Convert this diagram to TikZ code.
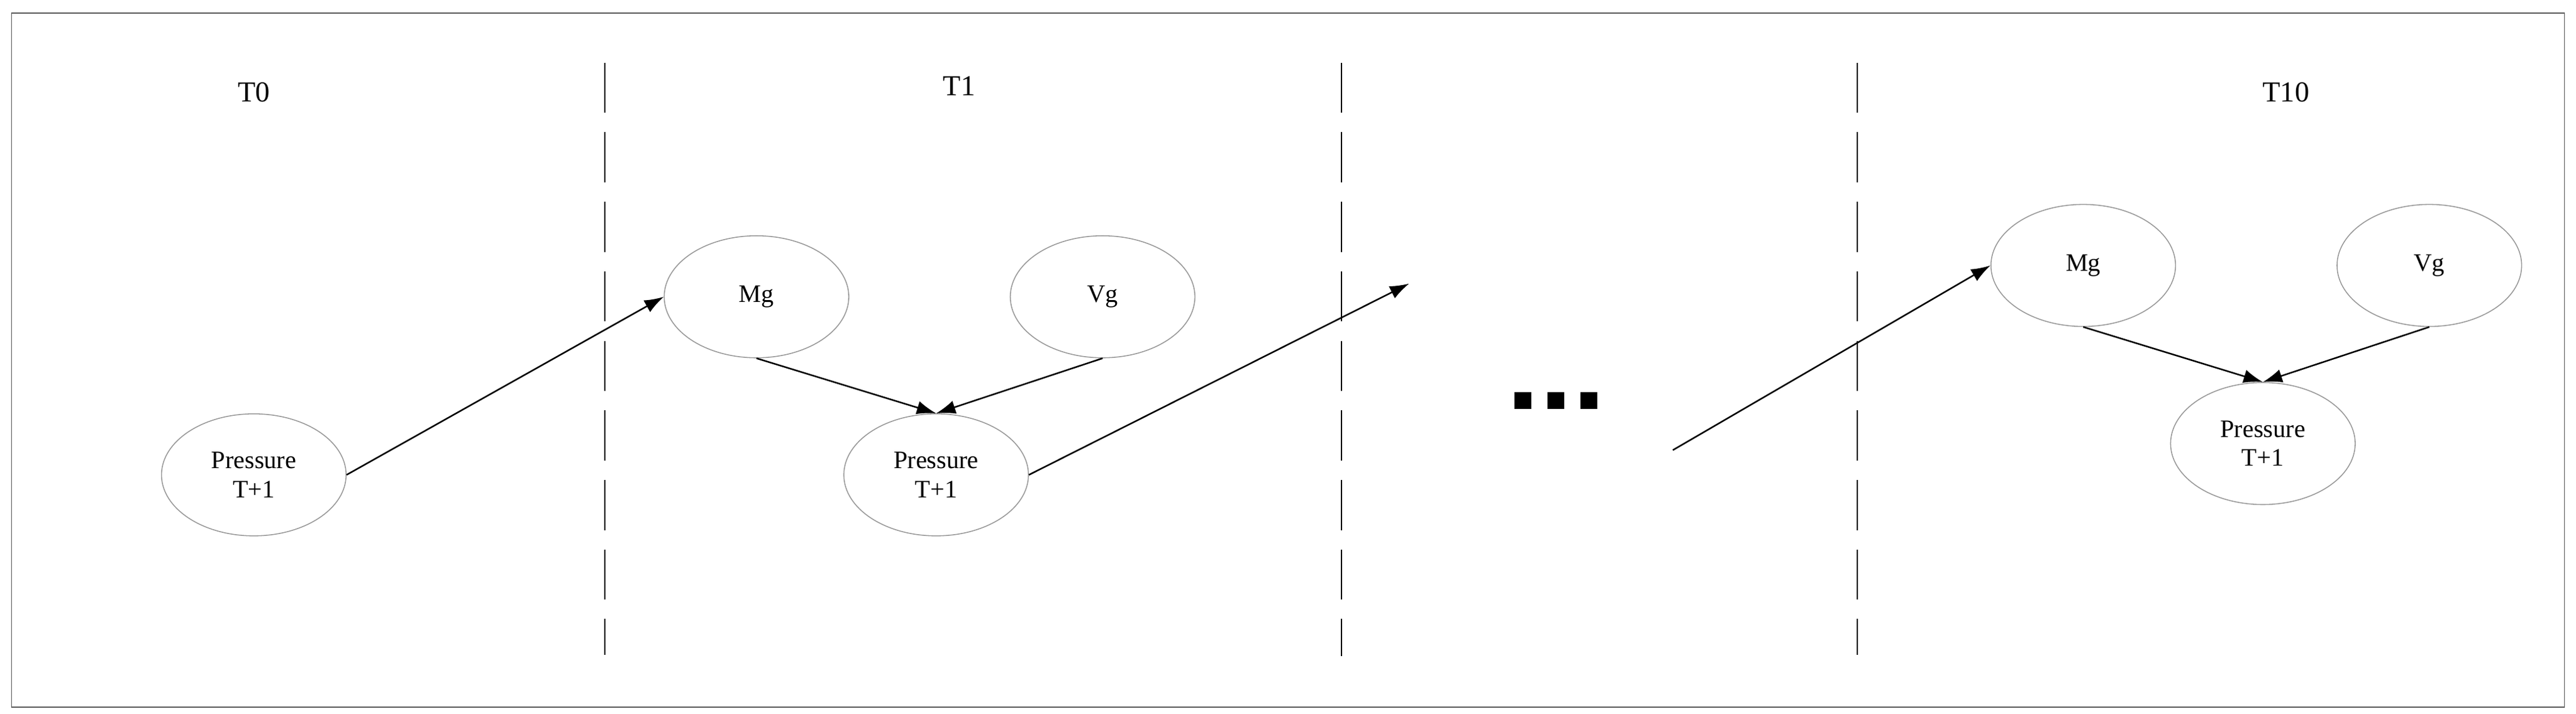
\documentclass[tikz,border=0pt]{standalone}
\usepackage{fontspec}
\setmainfont{Liberation Serif}
\usetikzlibrary{shapes.geometric,arrows.meta}
\begin{document}
\begin{tikzpicture}[x=0.03cm,y=-0.03cm,
  ell/.style={ellipse,draw=gray!80,line width=0.5pt,minimum width=3.36cm,minimum height=2.22cm,align=center,font=\fontsize{13}{15}\selectfont},
  arr/.style={-{Latex[length=10pt,width=7pt]},line width=0.8pt},
  sep/.style={dash pattern=on 26pt off 10pt,line width=0.8pt},
  lbl/.style={font=\fontsize{15}{17}\selectfont}]
\useasboundingbox (0,0) rectangle (1563,433);
\draw[gray!70!black,line width=0.6pt] (7,8) rectangle (1556,429);
\draw[sep] (367,38) -- (367,397);
\draw[sep] (814,38) -- (814,398);
\draw[sep] (1127,38) -- (1127,397);
\node[lbl] (t0) at (154,56) {T0};
\node[lbl] (t1) at (582,52) {T1};
\node[lbl] (t10) at (1387,56) {T10};
\node[ell] (p0) at (154,288) {Pressure\\T+1};
\node[ell] (m1) at (459,180) {Mg};
\node[ell] (v1) at (669,180) {Vg};
\node[ell] (p1) at (568,288) {Pressure\\T+1};
\node[ell] (m2) at (1264,161) {Mg};
\node[ell] (v2) at (1474,161) {Vg};
\node[ell] (p2) at (1373,269) {Pressure\\T+1};
\coordinate (c1) at (855,172);
\coordinate (c2) at (1015,273);
\draw[arr] (p0.east) -- (m1.west);
\draw[arr] (m1.south) -- (p1.north);
\draw[arr] (v1.south) -- (p1.north);
\draw[arr] (p1.east) -- (c1);
\draw[arr] (c2) -- (m2.west);
\draw[arr] (m2.south) -- (p2.north);
\draw[arr] (v2.south) -- (p2.north);
\foreach \x in {924,944,964} \fill (\x-5,238) rectangle (\x+5,248);
\end{tikzpicture}
\end{document}
